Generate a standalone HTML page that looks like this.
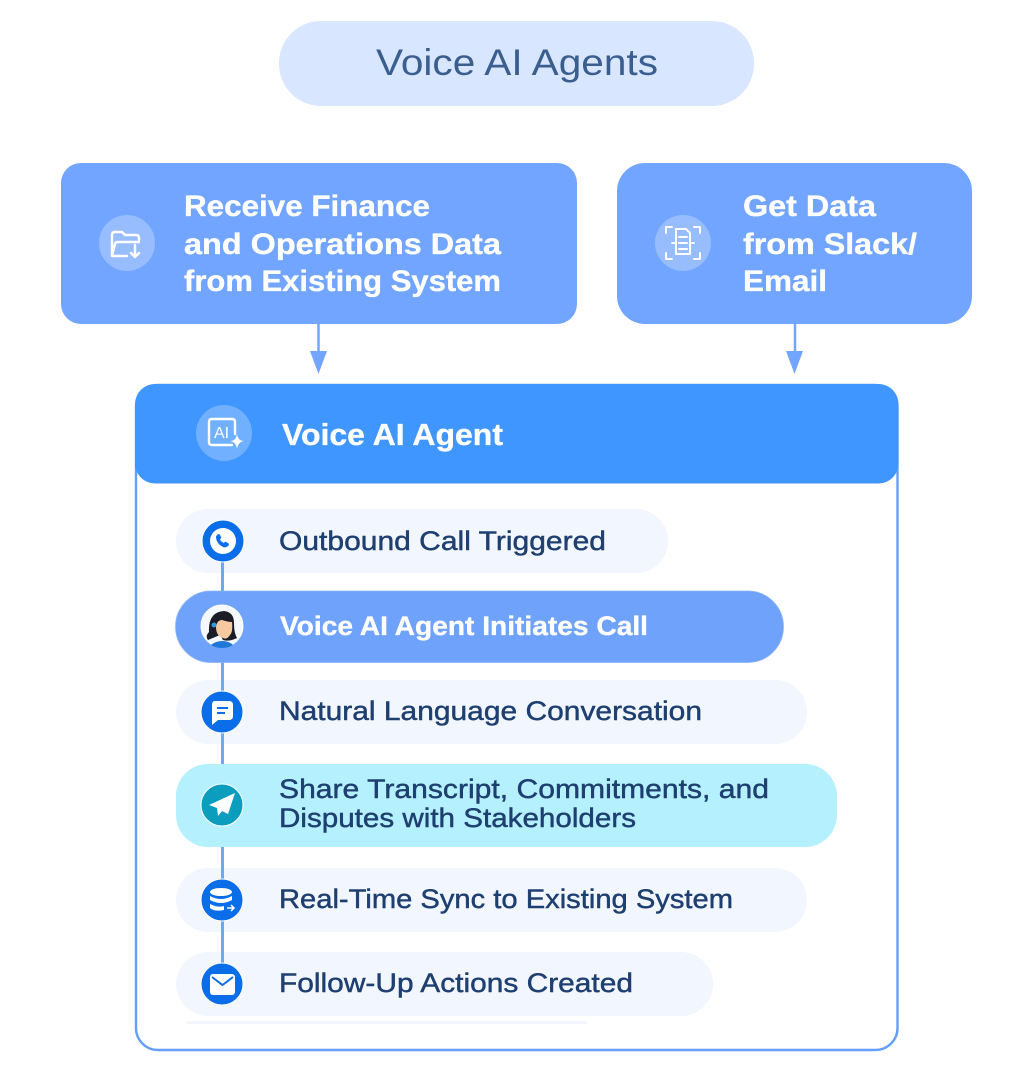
<!DOCTYPE html>
<html><head><meta charset="utf-8"><style>
html,body{margin:0;padding:0;background:#fff;width:1032px;height:1080px;overflow:hidden}
svg{display:block}
text{font-family:"Liberation Sans",sans-serif}
.h{font-weight:700;fill:#fff;font-size:30px;stroke:#fff;stroke-width:.35}
.t{fill:#1e3f70;font-size:27px;stroke:#1e3f70;stroke-width:.45}
</style></head><body>
<svg width="1032" height="1080" viewBox="0 0 1032 1080" xmlns="http://www.w3.org/2000/svg">
<rect width="1032" height="1080" fill="#fff"/>
<rect x="279" y="21" width="475" height="85" rx="42" fill="#d9e6ff"/>
<text x="376" y="75" font-size="37" fill="#3a5f8f" textLength="282" lengthAdjust="spacingAndGlyphs">Voice AI Agents</text>

<rect x="61" y="163" width="516" height="161" rx="20" fill="#72a5ff"/>
<rect x="617" y="163" width="355" height="161" rx="28" fill="#72a5ff"/>
<circle cx="127" cy="243" r="28" fill="#fff" fill-opacity=".27"/>
<circle cx="683" cy="243" r="28" fill="#fff" fill-opacity=".27"/>
<g fill="none" stroke="#fff" stroke-width="2.4" stroke-linejoin="round" stroke-linecap="round">
<path d="M112 255v-20q0-3 3-3h7l3 3h11q3 0 3 3v2M112 256l3-12q.5-2 3-2h21M112 256h15"/>
<path d="M135 245v11M131 253l4 4 4-4"/>
<path d="M666 233v-6h6M700 233v-6h-6M666 253v6h6M700 253v6h-6" stroke-width="2"/>
<path d="M676 229h10l4 4v21h-14zM679 237h8M679 243h8M679 249h8M672 243h4M690 243h4" stroke-width="2"/>
</g>
<text class="h" x="184" y="216" textLength="246" lengthAdjust="spacingAndGlyphs">Receive Finance</text>
<text class="h" x="184" y="254" textLength="317" lengthAdjust="spacingAndGlyphs">and Operations Data</text>
<text class="h" x="184" y="291" textLength="317" lengthAdjust="spacingAndGlyphs">from Existing System</text>
<text class="h" x="743" y="216" textLength="133" lengthAdjust="spacingAndGlyphs">Get Data</text>
<text class="h" x="743" y="254" textLength="174" lengthAdjust="spacingAndGlyphs">from Slack/</text>
<text class="h" x="743" y="291" textLength="84" lengthAdjust="spacingAndGlyphs">Email</text>

<path d="M318.5 324V352M795 324V352" stroke="#72a5ff" stroke-width="2.5"/>
<path d="M310 351h17l-8.500 23zM786 351h17l-8.500 23z" fill="#72a5ff"/>

<rect x="136" y="385" width="761.500" height="665" rx="22" fill="#fff" stroke="#62a0fb" stroke-width="2.400"/>
<rect x="135" y="384" width="763.500" height="99.500" rx="20" fill="#4096ff"/>
<circle cx="224" cy="433" r="28" fill="#fff" fill-opacity=".25"/>
<path d="M232 445h-20q-3 0-3-3v-20q0-3 3-3h20q3 0 3 3v12" fill="none" stroke="#fff" stroke-width="2.400" stroke-linecap="round"/>
<text x="214" y="438" font-size="16" fill="#fff">AI</text>
<path d="M237 434q1 7 7 7q-6 1-7 8q-1-7-7-8q6 0 7-7z" fill="#fff"/>
<text class="h" x="282" y="445" font-size="31" style="font-size:31px" textLength="221" lengthAdjust="spacingAndGlyphs">Voice AI Agent</text>

<rect x="176" y="509" width="492" height="64" rx="32" fill="#f2f6ff"/>
<rect x="176" y="680" width="631" height="64" rx="32" fill="#f2f6ff"/>
<rect x="176" y="868" width="631" height="64" rx="32" fill="#f2f6ff"/>
<rect x="176" y="952" width="537" height="64" rx="32" fill="#f2f6ff"/>
<rect x="187" y="1021" width="400" height="3" fill="#f2f6ff"/>
<path d="M222.500 541V984" stroke="#72a5f5" stroke-width="3"/>
<rect x="175.500" y="591" width="608" height="71.500" rx="35.700" fill="#6fa2fb" stroke="#8cb5fb" stroke-width=".8"/>
<rect x="176" y="764" width="661" height="83" rx="32" fill="#b5f0ff"/>

<g stroke="#fff" stroke-width="1">
<circle cx="223" cy="541" r="21" fill="#0b6ee9"/>
<circle cx="222" cy="626" r="21" fill="#f4f8ff"/>
<circle cx="222" cy="712" r="21" fill="#0b6ee9"/>
<circle cx="222" cy="805" r="21" fill="#0b9dbd"/>
<circle cx="222" cy="900" r="21" fill="#0b6ee9"/>
<circle cx="222" cy="984" r="21" fill="#0b6ee9"/>
</g>
<circle cx="223" cy="541" r="13" fill="#fff"/>
<path d="M217 535q2-2 3 0l1 2q1 1-1 2q1 3 4 4q1-2 2-1l2 1q2 1 0 3q-2 2-5 1q-6-3-7-9q0-2 1-3z" fill="#0b6ee9"/>
<!-- avatar -->
<path d="M208 640q-3-4 1-8q-1-20 15-21q10 1 10 12q0 10 3 15q-8 4-14 2l-3-5z" fill="#1c1c26"/>
<path d="M216 627q1-7 6-7q6 2 10 2q1 10-2 13q-3 5-7 3q-7-2-7-11z" fill="#f6c9a0"/>
<path d="M211 645q5-4 11-4q7 0 11 4q-5 3-11 3t-11-3z" fill="#1f77d8"/>
<circle cx="214" cy="625" r="2.500" fill="#2d9fe0"/>
<!-- chat -->
<path d="M215 701h14q4 0 4 4v11q0 4-4 4h-11l-6 5v-20q0-4 3-4z" fill="#fff"/>
<path d="M217 708h11M217 713h8" stroke="#0b6ee9" stroke-width="2"/>
<!-- paper plane -->
<path d="M235 793l-26 12 8 3 1 8 4-5 6 3z" fill="#fff"/>
<!-- database -->
<ellipse cx="221" cy="892" rx="11" ry="4" fill="#fff"/>
<path d="M210 896q11 6 22 0v4q-11 6-22 0zM210 904q8 4 14 2v4q-10 2-14-2z" fill="#fff"/>
<path d="M227 908h7M231 905l3 3-3 3" stroke="#fff" stroke-width="1.500" fill="none"/>
<!-- mail -->
<rect x="210" y="974" width="25" height="21" rx="3" fill="#fff"/>
<path d="M212 977l10.500 8 10.500-8" fill="none" stroke="#0b6ee9" stroke-width="2"/>

<text class="t" x="279" y="550" textLength="327" lengthAdjust="spacingAndGlyphs">Outbound Call Triggered</text>
<text class="h" x="280" y="635" style="font-size:27px" textLength="368" lengthAdjust="spacingAndGlyphs">Voice AI Agent Initiates Call</text>
<text class="t" x="279" y="720" textLength="423" lengthAdjust="spacingAndGlyphs">Natural Language Conversation</text>
<text class="t" x="279" y="798" textLength="490" lengthAdjust="spacingAndGlyphs">Share Transcript, Commitments, and</text>
<text class="t" x="279" y="827" textLength="357" lengthAdjust="spacingAndGlyphs">Disputes with Stakeholders</text>
<text class="t" x="279" y="908" textLength="454" lengthAdjust="spacingAndGlyphs">Real-Time Sync to Existing System</text>
<text class="t" x="279" y="992" textLength="354" lengthAdjust="spacingAndGlyphs">Follow-Up Actions Created</text>
</svg>
</body></html>
